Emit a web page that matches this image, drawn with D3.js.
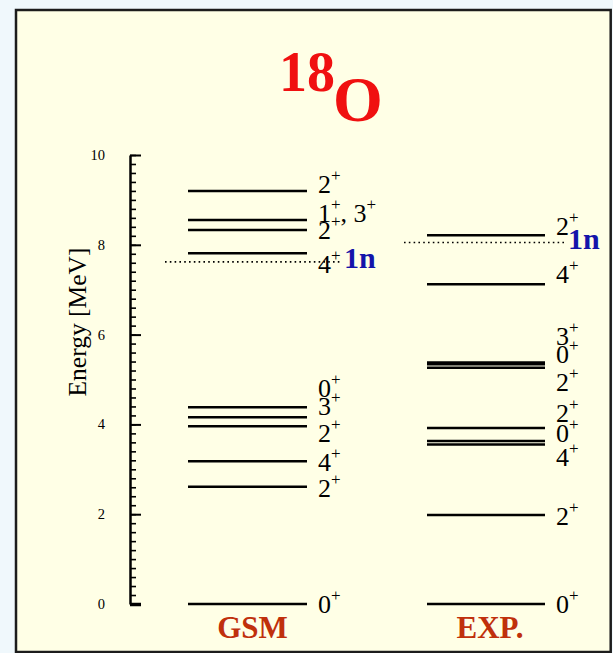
<!DOCTYPE html>
<html>
<head>
<meta charset="utf-8">
<script src="https://cdn.jsdelivr.net/npm/d3@7"></script>
<style>
  html, body { margin: 0; padding: 0; background: #f0f8fc; }
  svg { display: block; }
</style>
</head>
<body>
<svg id="chart" width="613" height="653"></svg>
<script>
// ---- data ----
const gsmEnergies = [0, 2.61, 3.18, 3.96, 4.16, 4.38, 7.81, 8.33, 8.55, 9.20];
const gsmSpins    = ["0+", "2+", "4+", "2+", "3+", "0+", "4+", "2+", "1+, 3+", "2+"];
const expEnergies = [0, 1.98, 3.55, 3.63, 3.92, 5.26, 5.34, 5.38, 7.12, 8.21];
const expSpins    = ["0+", "2+", "4+", "0+", "2+", "2+", "0+", "3+", "4+", "2+"];
const gsmThreshold = 7.62;
const expThreshold = 8.05;
const majorTicks = [0, 2, 4, 6, 8, 10];
const minorStep = 0.2;
const columns = ["GSM", "EXP."];

// ---- layout (label placement in MeV, to avoid overlaps) ----
const gsmLabelAt = [0, 2.57, 3.16, 3.80, 4.40, 4.79, 7.57, 8.31, 8.69, 9.35];
const expLabelAt = [0, 1.95, 3.27, 3.79, 4.24, 4.94, 5.55, 5.95, 7.33, 8.40];

const svg = d3.select("#chart");
const SERIF = "Liberation Serif, Times New Roman, serif";

// panel
svg.append("rect").attr("x", 16).attr("y", 10).attr("width", 594.7).attr("height", 642)
  .attr("fill", "#ffffe6").attr("stroke", "#1c1c1c").attr("stroke-width", 2.5);

const y = d3.scaleLinear().domain([0, 10]).range([604, 155]);
const axisX = 130;

// minor ticks
const minorVals = d3.range(0, 10 + 1e-9, minorStep).map(v => +v.toFixed(2));
const gMinor = svg.append("g").attr("transform", `translate(${axisX},0)`)
  .call(d3.axisRight(y).tickValues(minorVals).tickSize(6).tickSizeOuter(0).tickFormat(""));
gMinor.select(".domain").remove();
gMinor.selectAll(".tick line").attr("stroke", "#000").attr("stroke-width", 1.6);

// major ticks
const gMajor = svg.append("g").attr("transform", `translate(${axisX},0)`)
  .call(d3.axisRight(y).tickValues(majorTicks).tickSize(11).tickSizeOuter(0).tickFormat(""));
gMajor.select(".domain").attr("stroke", "#000").attr("stroke-width", 2.5);
gMajor.selectAll(".tick line").attr("stroke", "#000")
  .attr("stroke-width", d => d === 0 ? 3.5 : 2);

// tick labels
svg.append("g").selectAll("text").data(majorTicks).join("text")
  .attr("x", 105).attr("y", d => y(d))
  .attr("text-anchor", "end").attr("dominant-baseline", "central")
  .attr("font-family", SERIF)
  .attr("font-size", 14.5).attr("fill", "#000")
  .text(d => d);

// axis title
svg.append("text")
  .attr("transform", `translate(86,322) rotate(-90)`)
  .attr("text-anchor", "middle")
  .attr("font-family", SERIF)
  .attr("font-size", 25.5).attr("fill", "#000")
  .text("Energy [MeV]");

// title 18O
const title = svg.append("text")
  .attr("x", 279).attr("y", 121)
  .attr("font-family", SERIF)
  .attr("font-weight", "bold").attr("fill", "#f01010");
title.append("tspan").attr("font-size", 56).attr("dy", -30).text("18");
title.append("tspan").attr("font-size", 64).attr("dx", -2).attr("dy", 30).text("O");

// level spin label helper
function addSpin(sel, str) {
  const parts = str.split(/(\+|-)/).filter(s => s.length);
  let raised = false;
  parts.forEach(p => {
    if (p === "+" || p === "-") {
      sel.append("tspan").attr("font-size", 17).attr("dy", raised ? 0 : -12).text(p);
      raised = true;
    } else {
      sel.append("tspan").attr("font-size", 26).attr("dy", raised ? 12 : 0).text(p);
      raised = false;
    }
  });
}

function drawScheme(energies, spins, labelAt, x0, x1, labelX) {
  const g = svg.append("g");
  g.selectAll("line").data(energies).join("line")
    .attr("x1", x0).attr("x2", x1)
    .attr("y1", d => y(d)).attr("y2", d => y(d))
    .attr("stroke", "#000").attr("stroke-width", 2.5);
  g.selectAll("text").data(spins).join("text")
    .attr("x", labelX).attr("y", (d, i) => y(labelAt[i]) + 8.5)
    .attr("font-family", SERIF)
    .attr("fill", "#000")
    .each(function(d) { addSpin(d3.select(this), d); });
}

drawScheme(gsmEnergies, gsmSpins, gsmLabelAt, 188, 307, 318);
drawScheme(expEnergies, expSpins, expLabelAt, 427, 545, 556);

// neutron thresholds
function threshold(e, x0, x1, tx) {
  svg.append("line").attr("x1", x0).attr("x2", x1)
    .attr("y1", y(e)).attr("y2", y(e))
    .attr("stroke", "#000").attr("stroke-width", 1.6)
    .attr("stroke-dasharray", "1.6,3.2");
  svg.append("text").attr("x", tx).attr("y", y(e) + 6)
    .attr("font-family", SERIF)
    .attr("font-weight", "bold").attr("font-size", 30).attr("fill", "#1414aa")
    .text("1n");
}
threshold(gsmThreshold, 165, 340, 344);
threshold(expThreshold, 404, 566, 568);

// column labels
svg.append("g").selectAll("text").data(columns).join("text")
  .attr("x", (d, i) => i === 0 ? 252.5 : 490).attr("y", 638)
  .attr("text-anchor", "middle")
  .attr("font-family", SERIF)
  .attr("font-weight", "bold").attr("font-size", 31).attr("fill", "#c0300c")
  .text(d => d);
</script>
</body>
</html>
